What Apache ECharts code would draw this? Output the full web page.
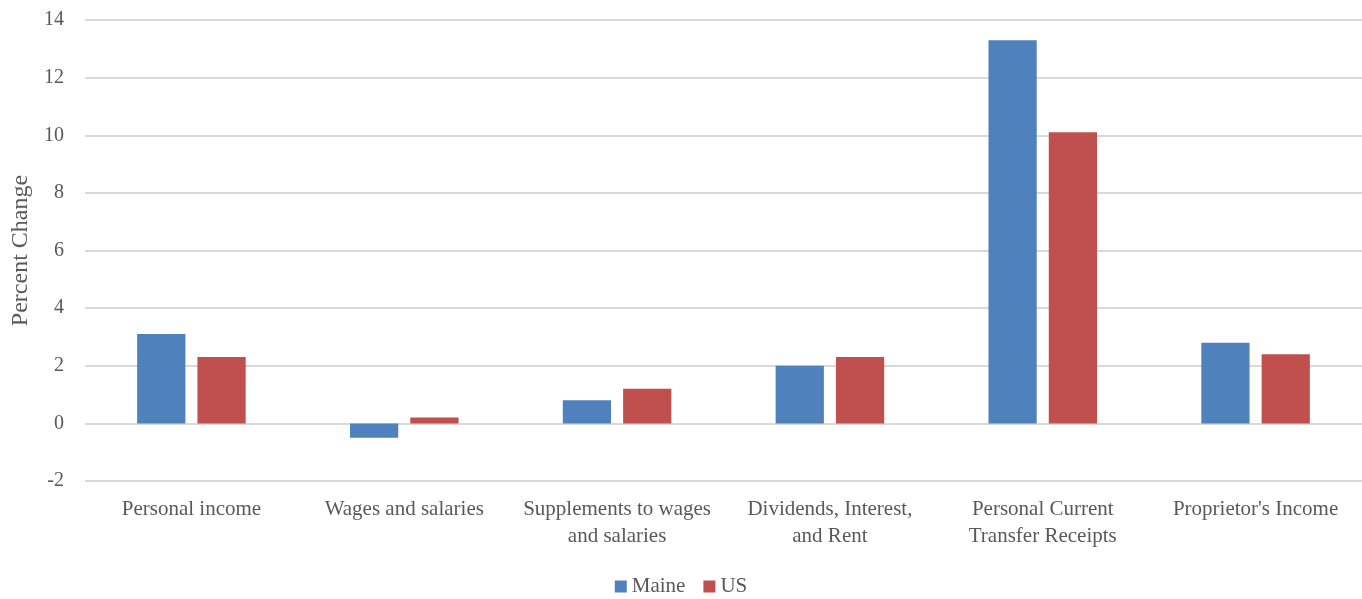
<!DOCTYPE html>
<html>
<head>
<meta charset="utf-8">
<script src="https://cdn.jsdelivr.net/npm/echarts@6/dist/echarts.min.js"></script>
<style>
  html, body { margin: 0; padding: 0; background: #fff; }
  #chart { width: 1362px; height: 599px; }
</style>
</head>
<body>
<div id="chart"></div>
<script>
const categories = [
  'Personal income',
  'Wages and salaries',
  'Supplements to wages\nand salaries',
  'Dividends, Interest,\nand Rent',
  'Personal Current\nTransfer Receipts',
  "Proprietor's Income"
];
const maine = [3.1, -0.5, 0.8, 2.0, 13.3, 2.8];
const us = [2.3, 0.2, 1.2, 2.3, 10.1, 2.4];

const font = 'Liberation Serif, Times New Roman, serif';
const textColor = '#595959';

const myChart = echarts.init(document.getElementById('chart'));
const option = {
  animation: false,
  textStyle: { fontFamily: font },
  grid: {
    left: 85,
    right: 0,
    top: 20,
    bottom: 118,
    outerBoundsMode: 'none',
    containLabel: false
  },
  legend: {
    bottom: -3,
    left: 'center',
    itemWidth: 12,
    itemHeight: 12,
    itemGap: 18,
    icon: 'rect',
    textStyle: { fontFamily: font, fontSize: 21, color: textColor },
    data: ['Maine', 'US']
  },
  xAxis: {
    type: 'category',
    data: categories,
    axisLine: { show: false },
    axisTick: { show: false },
    axisLabel: {
      interval: 0,
      color: textColor,
      fontFamily: font,
      fontSize: 21,
      lineHeight: 27,
      margin: 15
    }
  },
  yAxis: {
    type: 'value',
    min: -2,
    max: 14,
    interval: 2,
    name: 'Percent Change',
    nameLocation: 'middle',
    nameRotate: 90,
    nameGap: 52,
    nameTextStyle: { fontFamily: font, fontSize: 24, color: textColor },
    axisLine: { show: false },
    axisTick: { show: false },
    axisLabel: { color: textColor, fontFamily: font, fontSize: 20, margin: 21 },
    splitLine: { lineStyle: { color: '#d9d9d9', width: 2 } }
  },
  series: [
    {
      name: 'Maine',
      type: 'bar',
      data: maine,
      barGap: '25%',
      barCategoryGap: '49%',
      itemStyle: { color: '#4F81BD' }
    },
    {
      name: 'US',
      type: 'bar',
      data: us,
      barGap: '25%',
      barCategoryGap: '49%',
      itemStyle: { color: '#C0504D' }
    }
  ]
};
myChart.setOption(option, true);
window.addEventListener('resize', () => {
  myChart.resize();
});
</script>
</body>
</html>
